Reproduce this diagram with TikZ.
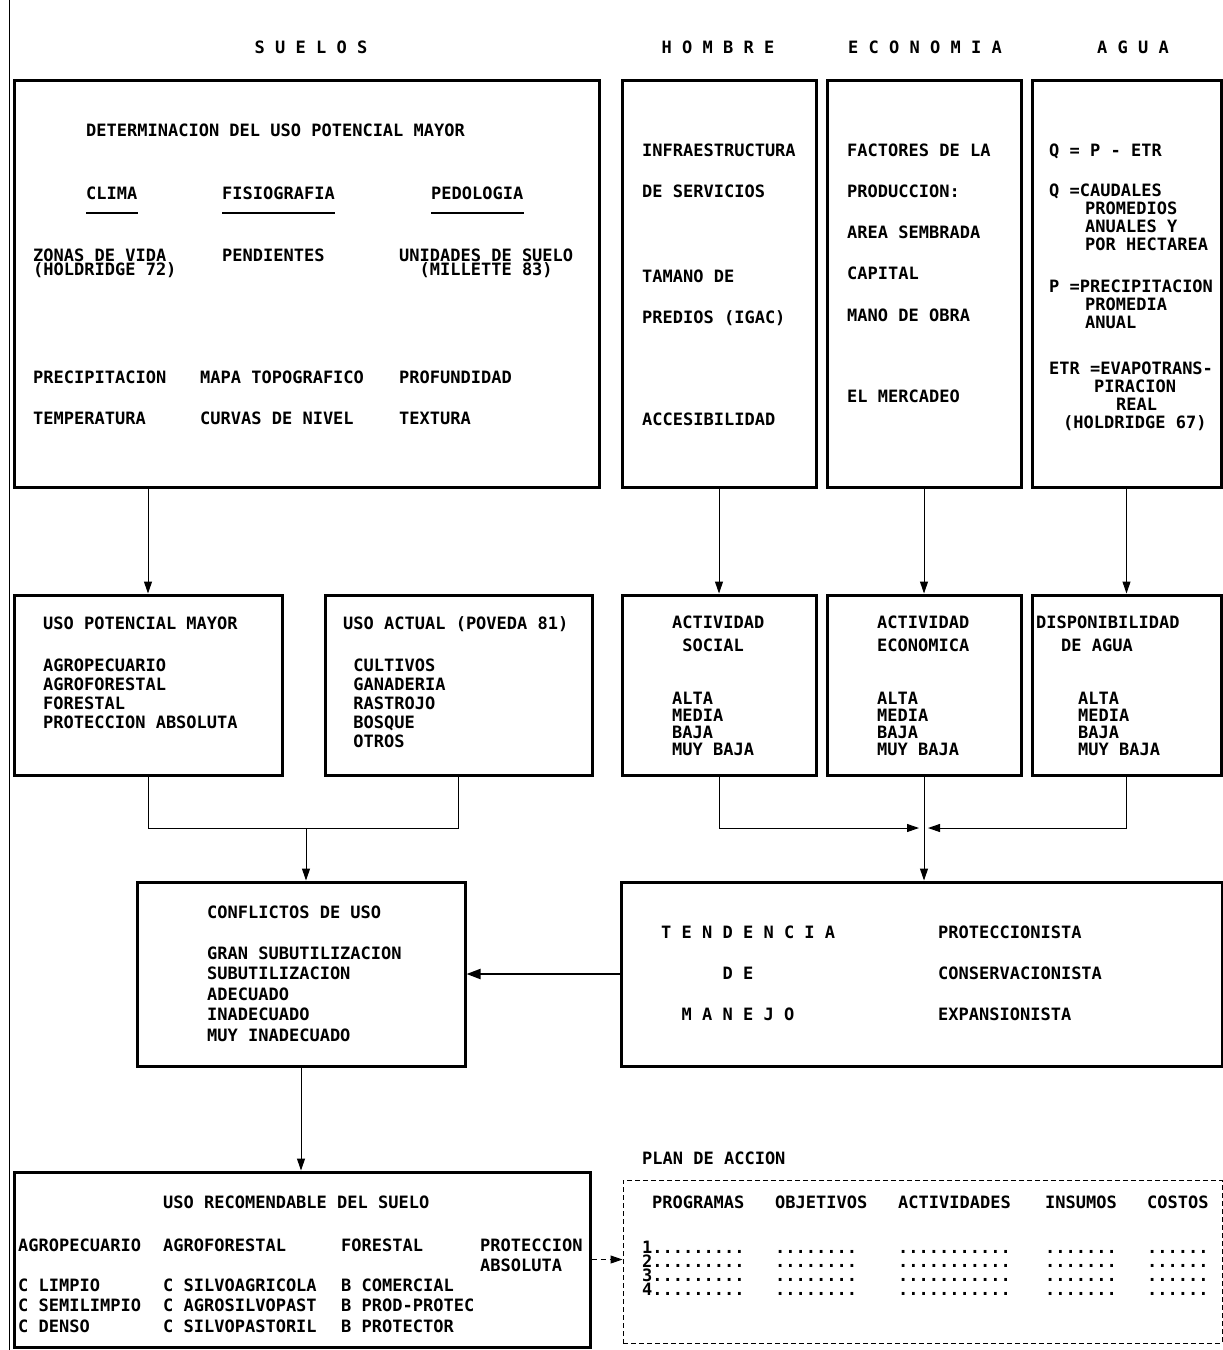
\documentclass[tikz,border=0pt]{standalone}
\usepackage{fontspec}
\newfontfamily\dotfont{DejaVu Sans Mono}
\usetikzlibrary{arrows.meta,positioning}

\begin{document}
\begin{tikzpicture}[x=1pt,y=-1pt,
  box/.style={draw,line width=3pt,inner sep=0pt},
  txt/.style={font=\dotfont\bfseries\fontsize{17}{20.5}\selectfont,anchor=north west,inner sep=0pt,align=left,yshift=6.5pt},
  hdr/.style={font=\dotfont\bfseries\fontsize{17}{20}\selectfont,inner sep=0pt},
  tight/.style={font=\dotfont\bfseries\fontsize{17}{14}\selectfont},
  compact/.style={font=\dotfont\bfseries\fontsize{17}{17}\selectfont},
  mid/.style={font=\dotfont\bfseries\fontsize{17}{18}\selectfont},
  lst/.style={font=\dotfont\bfseries\fontsize{17}{19}\selectfont},
  wide/.style={font=\dotfont\bfseries\fontsize{17}{41.2}\selectfont},
  uline/.style={line width=1.6pt},
  arr/.style={line width=1pt,-{Triangle[length=12pt,width=8pt]}},
  link/.style={line width=1pt}]
  \useasboundingbox (0,0) rectangle (1223,1350);
  % page edge
  \draw[line width=0.8pt] (9,0) -- (9,1350);
  % Headers
  \node[hdr] (hsuelos) at (311,47) {S U E L O S};
  \node[hdr] (hhombre) at (718,47) {H O M B R E};
  \node[hdr] (hecon) at (925,47) {E C O N O M I A};
  \node[hdr] (hagua) at (1133,47) {A G U A};
  % Top row boxes
  \node[box,minimum width=585pt,minimum height=407pt] (suelos) at (306.5,283.5) {};
  \node[box,minimum width=194pt,minimum height=407pt] (hombre) at (719,283.5) {};
  \node[box,minimum width=194pt,minimum height=407pt] (econ) at (924,283.5) {};
  \node[box,minimum width=189pt,minimum height=407pt] (agua) at (1126.5,283.5) {};
  % Suelos
  \node[txt] (det) at (86,130) {DETERMINACION DEL USO POTENCIAL MAYOR};
  \node[txt] (clima) at (86,193) {CLIMA};
  \node[txt] (fisio) at (222,193) {FISIOGRAFIA};
  \node[txt] (pedo) at (431,193) {PEDOLOGIA};
  \foreach \n in {clima,fisio,pedo}
    \draw[uline] ([yshift=-13pt]\n.south west) -- ([yshift=-13pt]\n.south east);
  \node[txt,tight] (zonas) at (33,255) {ZONAS DE VIDA\\(HOLDRIDGE 72)};
  \node[txt] (pend) at (222,255) {PENDIENTES};
  \node[txt,tight] (unid) at (399,255) {UNIDADES DE SUELO\\\hphantom{XX}(MILLETTE 83)};
  \node[txt,wide] (prec) at (33,377) {PRECIPITACION\\TEMPERATURA};
  \node[txt,wide] (mapa) at (200,377) {MAPA TOPOGRAFICO\\CURVAS DE NIVEL};
  \node[txt,wide] (prof) at (399,377) {PROFUNDIDAD\\TEXTURA};
  % Hombre, economia, agua
  \node[txt,wide] (infra) at (642,150) {INFRAESTRUCTURA\\DE SERVICIOS\\[44pt]TAMANO DE\\PREDIOS (IGAC)\\[60pt]ACCESIBILIDAD};
  \node[txt,wide] (fact) at (847,150) {FACTORES DE LA\\PRODUCCION:\\AREA SEMBRADA\\CAPITAL\\MANO DE OBRA\\[40pt]EL MERCADEO};
  \node[txt,mid] (qeq) at (1049,150) {Q = P - ETR\\[22pt]Q =CAUDALES\\\hspace*{36pt}PROMEDIOS\\\hspace*{36pt}ANUALES Y\\\hspace*{36pt}POR HECTAREA\\[24pt]P =PRECIPITACION\\\hspace*{36pt}PROMEDIA\\\hspace*{36pt}ANUAL\\[28pt]ETR =EVAPOTRANS-\\\hspace*{45pt}PIRACION\\\hspace*{67pt}REAL\\\hspace*{14pt}(HOLDRIDGE 67)};
  % Middle row boxes
  \node[box,minimum width=268pt,minimum height=180pt] (upm) at (148,685) {};
  \node[box,minimum width=267pt,minimum height=180pt] (actual) at (458.5,685) {};
  \node[box,minimum width=194pt,minimum height=180pt] (social) at (719,685) {};
  \node[box,minimum width=194pt,minimum height=180pt] (eco) at (924,685) {};
  \node[box,minimum width=189pt,minimum height=180pt] (disp) at (1126.5,685) {};
  \node[txt,lst] (upmt) at (43,623) {USO POTENCIAL MAYOR\\[23pt]AGROPECUARIO\\AGROFORESTAL\\FORESTAL\\PROTECCION ABSOLUTA};
  \node[txt,lst] (actt) at (343,623) {USO ACTUAL (POVEDA 81)\\[23pt]\hphantom{X}CULTIVOS\\\hphantom{X}GANADERIA\\\hphantom{X}RASTROJO\\\hphantom{X}BOSQUE\\\hphantom{X}OTROS};
  \node[txt,compact] (soct) at (672,622) {ACTIVIDAD\\[6pt]\hphantom{X}SOCIAL\\[36pt]ALTA\\MEDIA\\BAJA\\MUY BAJA};
  \node[txt,compact] (ecot) at (877,622) {ACTIVIDAD\\[6pt]ECONOMICA\\[36pt]ALTA\\MEDIA\\BAJA\\MUY BAJA};
  \node[txt,compact] (dispt) at (1036,622) {DISPONIBILIDAD\\[6pt]\hspace*{25pt}DE AGUA\\[36pt]\hspace*{42pt}ALTA\\\hspace*{42pt}MEDIA\\\hspace*{42pt}BAJA\\\hspace*{42pt}MUY BAJA};
  % Down arrows
  \draw[arr] (suelos.south -| upm.north) -- (upm.north);
  \draw[arr] (hombre.south) -- (social.north);
  \draw[arr] (econ.south) -- (eco.north);
  \draw[arr] (agua.south) -- (disp.north);
  % Lower row boxes
  \node[box,minimum width=328pt,minimum height=184pt] (confl) at (301,974) {};
  \node[box,minimum width=601pt,minimum height=184pt] (tend) at (921.5,974) {};
  \node[txt] (conft) at (207,912) {CONFLICTOS DE USO\\[20.5pt]GRAN SUBUTILIZACION\\SUBUTILIZACION\\ADECUADO\\INADECUADO\\MUY INADECUADO};
  \node[txt,wide] (tendt) at (661,932) {T E N D E N C I A\\\hphantom{TENDEN}D E\\\hphantom{TE}M A N E J O};
  \node[txt,wide] (prot) at (938,932) {PROTECCIONISTA\\CONSERVACIONISTA\\EXPANSIONISTA};
  % Joins
  \coordinate (jl) at (306,828);
  \coordinate (jr) at (923,828);
  \draw[link] (upm.south) |- (jl) -| (actual.south);
  \draw[arr] (jl) -- (jl |- confl.north);
  \draw[arr] (social.south) |- ([xshift=-4pt]jr);
  \draw[arr] (disp.south) |- ([xshift=5pt]jr);
  \draw[arr] (eco.south) -- (eco.south |- tend.north);
  \draw[line width=2pt,-{Triangle[length=14pt,width=10pt]}] (tend.west) -- (confl.east);
  % Bottom row
  \node[box,minimum width=576pt,minimum height=175pt] (recom) at (302,1259.5) {};
  \draw[arr] (confl.south) -- (confl.south |- recom.north);
  \node[txt] (rect) at (163,1202) {USO RECOMENDABLE DEL SUELO};
  \node[txt] (agrop) at (18,1245) {AGROPECUARIO\\[19.5pt]C LIMPIO\\C SEMILIMPIO\\C DENSO};
  \node[txt] (agrof) at (163,1245) {AGROFORESTAL\\[19.5pt]C SILVOAGRICOLA\\C AGROSILVOPAST\\C SILVOPASTORIL};
  \node[txt] (fores) at (341,1245) {FORESTAL\\[19.5pt]B COMERCIAL\\B PROD-PROTEC\\B PROTECTOR};
  \node[txt] (prota) at (480,1245) {PROTECCION\\ABSOLUTA};
  % Plan de accion
  \node[draw,dashed,dash pattern=on 5pt off 3pt,line width=1pt,minimum width=599pt,minimum height=163pt] (plan) at (922.5,1261.5) {};
  \node[txt] (plant) at (642,1158) {PLAN DE ACCION};
  \draw[arr,dash pattern=on 5pt off 4pt] (recom.east) -- (recom.east -| plan.west);
  \foreach \x/\t in {652/PROGRAMAS,775/OBJETIVOS,898/ACTIVIDADES,1045/INSUMOS,1147/COSTOS}
    \node[txt] (h\t) at (\x,1202) {\t};
  \foreach \r/\y in {1/1247,2/1261,3/1275,4/1289}{
    \node[txt] (p\r) at (642,\y) {\r.........};
    \node[txt] (o\r) at (775,\y) {\vphantom{1}........};
    \node[txt] (a\r) at (898,\y) {\vphantom{1}...........};
    \node[txt] (i\r) at (1045,\y) {\vphantom{1}.......};
    \node[txt] (c\r) at (1147,\y) {\vphantom{1}......};
  }
\end{tikzpicture}
\end{document}
